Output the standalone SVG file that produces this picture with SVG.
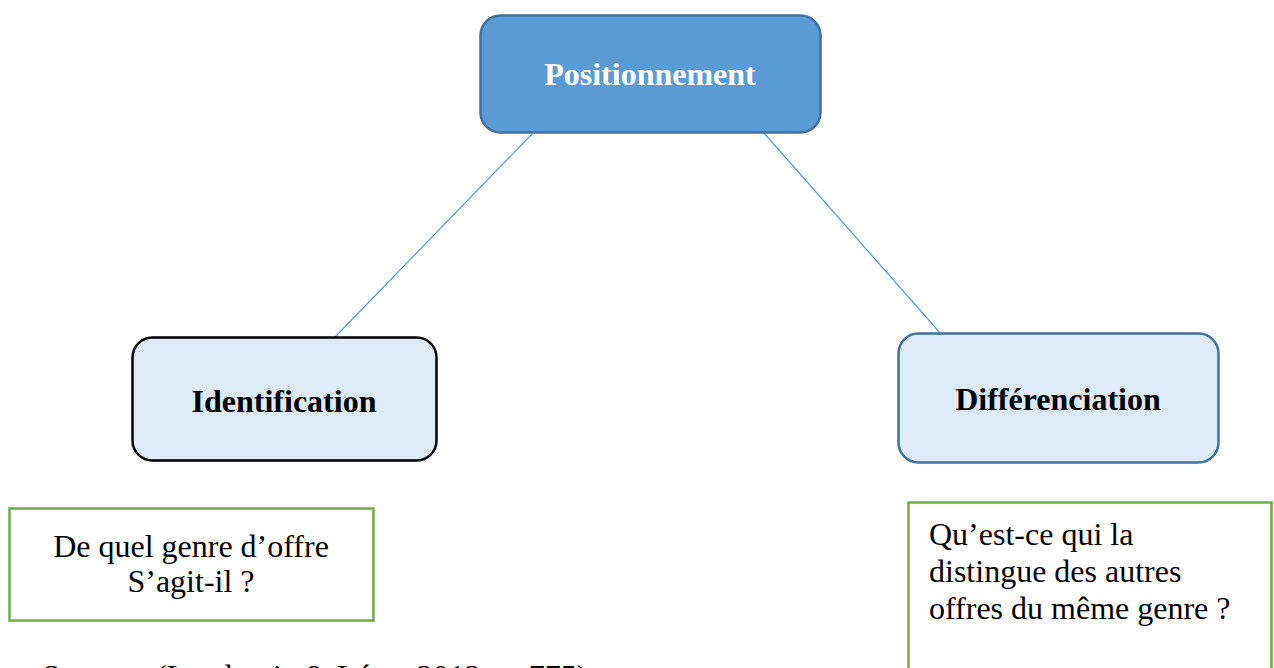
<svg xmlns="http://www.w3.org/2000/svg" width="1274" height="668" viewBox="0 0 1274 668">
  <style>
    .title { font-family: "Liberation Serif", "Times New Roman", serif; font-size: 32px; font-weight: bold; text-anchor: middle; }
    .body { font-family: "Liberation Serif", "Times New Roman", serif; font-size: 32px; fill: #000; }
    .node-dark { fill: #5B9BD5; stroke: #41719C; stroke-width: 2.5; }
    .node-light { fill: #DEEAF6; stroke-width: 2.5; }
    .note { fill: #FFFFFF; stroke: #70AD47; stroke-width: 2.5; }
    .link { stroke: #5B9BD5; stroke-width: 1.2; fill: none; }
  </style>
  <rect width="1274" height="668" fill="#FFFFFF"/>

  <!-- connectors -->
  <g id="connectors">
    <line class="link" x1="533" y1="133" x2="334" y2="338"/>
    <line class="link" x1="764" y1="133" x2="941" y2="334"/>
  </g>

  <!-- top node -->
  <g id="node-positionnement">
    <rect class="node-dark" x="480.5" y="15.5" width="340" height="117" rx="20" ry="20"/>
    <text class="title" x="650" y="85" fill="#FFFFFF">Positionnement</text>
  </g>

  <!-- left node -->
  <g id="node-identification">
    <rect class="node-light" x="132.5" y="337.5" width="304" height="123" rx="20" ry="20" stroke="#000000"/>
    <text class="title" x="284" y="412" fill="#000000">Identification</text>
  </g>

  <!-- right node -->
  <g id="node-differenciation">
    <rect class="node-light" x="898.5" y="333.5" width="320" height="129" rx="20" ry="20" stroke="#41719C"/>
    <text class="title" x="1058" y="410" fill="#000000">Différenciation</text>
  </g>

  <!-- left question -->
  <g id="note-identification">
    <rect class="note" x="9.5" y="508.5" width="364" height="112"/>
    <text class="body" x="191" y="557" text-anchor="middle">De quel genre d’offre</text>
    <text class="body" x="191" y="592" text-anchor="middle">S’agit-il ?</text>
  </g>

  <!-- right question -->
  <g id="note-differenciation">
    <rect class="note" x="908.5" y="502.5" width="363" height="180"/>
    <text class="body" x="929" y="545">Qu’est-ce qui la</text>
    <text class="body" x="929" y="582">distingue des autres</text>
    <text class="body" x="929" y="619">offres du même genre ?</text>
  </g>

  <!-- source line, running past the bottom edge of the page -->
  <g id="source">
    <text class="body" x="42" y="687">Source : (Lendrevie &amp; Lévy, 2012, p. 775)</text>
  </g>
</svg>
